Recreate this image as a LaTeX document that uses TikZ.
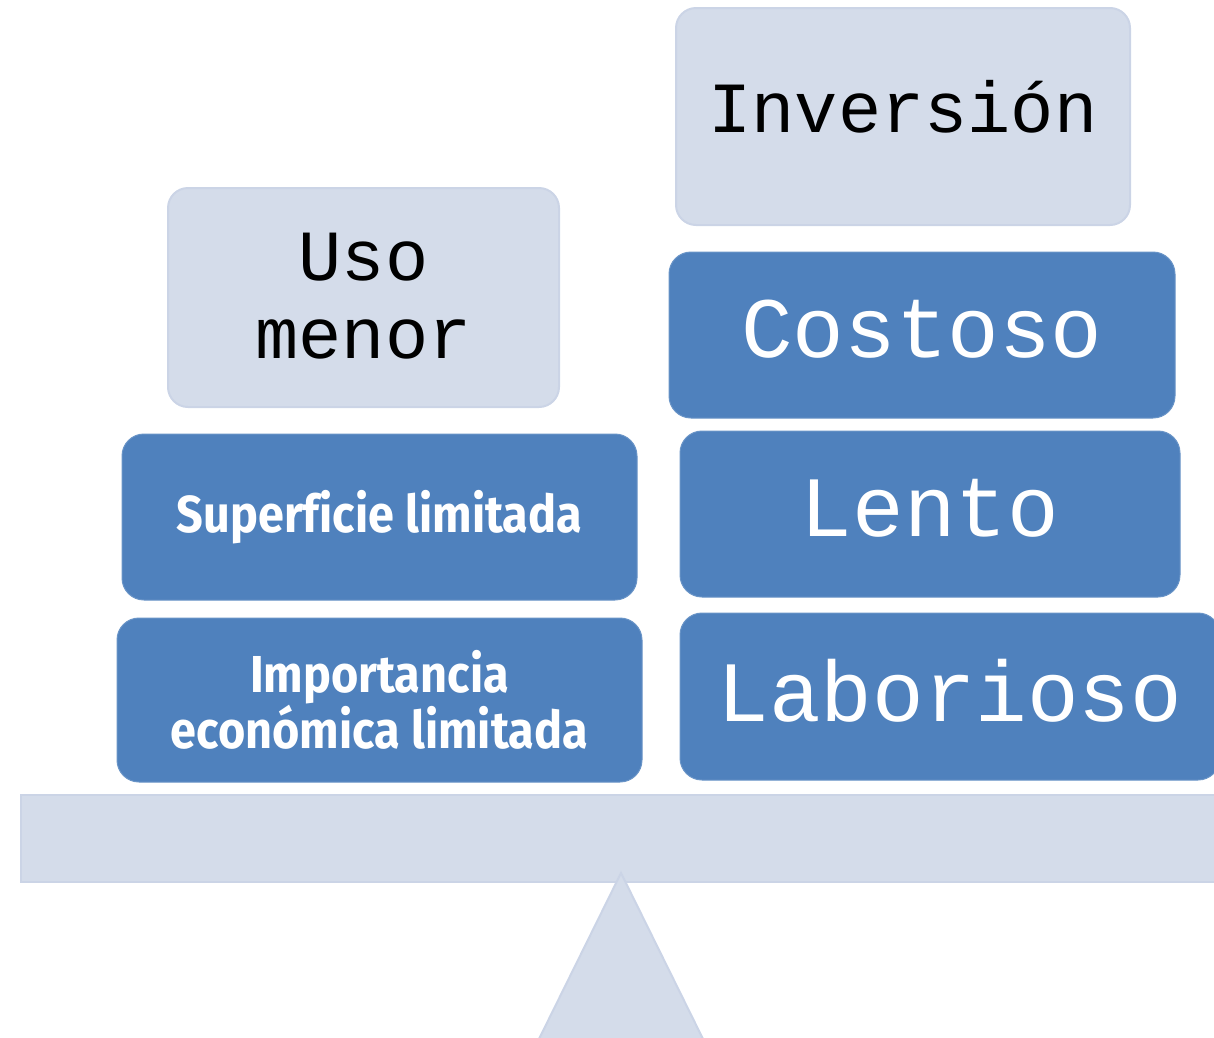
\documentclass[tikz,border=0pt]{standalone}
\usepackage{fontspec}
\newfontfamily\monof{Liberation Mono}
\newfontfamily\dinf[FakeStretch=0.9,Ligatures=CommonOff]{Fira Sans}
\definecolor{lightfill}{HTML}{D4DCEA}
\definecolor{lightline}{HTML}{CBD4E6}
\definecolor{bluefill}{HTML}{4F81BD}
\tikzset{
  lightbox/.style={draw=lightline, line width=2pt, fill=lightfill, rounded corners=20pt, inner sep=0pt, align=center, text=black},
  bluebox/.style={draw=bluefill!85!white, line width=1pt, fill=bluefill, rounded corners=22pt, inner sep=0pt, align=center, text=white},
  monobig/.style={font=\monof\fontsize{86}{90}\selectfont},
  monomid/.style={font=\monof\fontsize{72}{78}\selectfont},
  sansbold/.style={font=\dinf\bfseries\fontsize{52}{51}\selectfont},
  basepart/.style={draw=lightline, line width=2pt, fill=lightfill}
}
\begin{document}
\begin{tikzpicture}[x=1pt,y=-1pt]
\useasboundingbox (0,0) rectangle (1214,1037);
% beam and fulcrum
\draw[basepart] (21,795) rectangle (1230,882);
\draw[basepart] (621,873) -- (706,1045) -- (536,1045) -- cycle;
% right column
\node[lightbox, monomid, text depth=20pt, minimum width=454pt, minimum height=217pt] (inv) at (903,116.5) {Inversión};
\node[bluebox, monobig, text depth=12pt, minimum width=506pt, minimum height=166pt] (cost) at (922,335) {Costoso};
\node[bluebox, monobig, text depth=12pt, minimum width=500pt, minimum height=166pt] (lento) at (930,514) {Lento};
\node[bluebox, monobig, text depth=12pt, minimum width=540pt, minimum height=167pt] (labo) at (950,696.5) {Laborioso};
% left column
\node[lightbox, monomid, minimum width=391pt, minimum height=219pt] (uso) at (363.5,297.5) {\raisebox{4pt}{Uso}\\\raisebox{4pt}{menor}};
\node[bluebox, sansbold, minimum width=515pt, minimum height=166pt] (sup) at (379.5,517) {Superficie limitada};
\node[bluebox, sansbold, minimum width=525pt, minimum height=164pt] (imp) at (379.5,700) {Importancia\\económica limitada};
\end{tikzpicture}
\end{document}
